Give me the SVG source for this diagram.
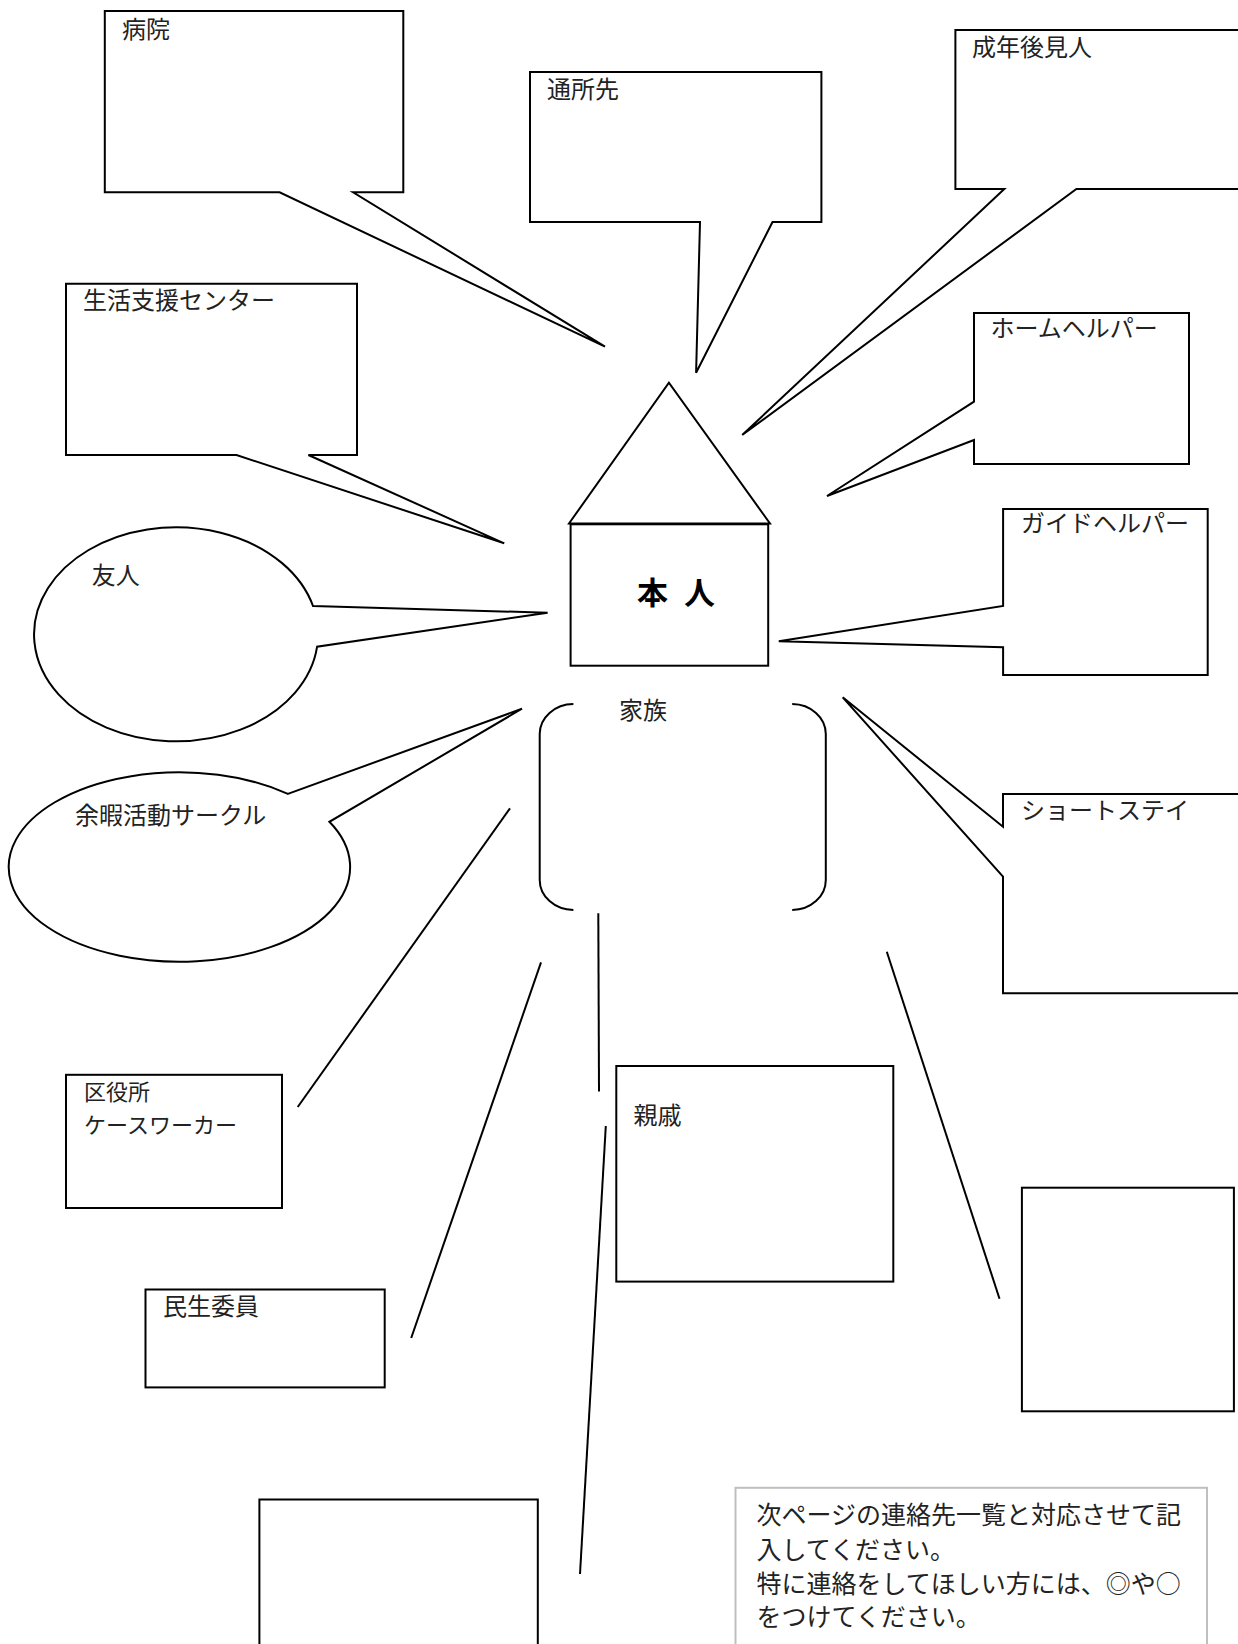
<svg xmlns="http://www.w3.org/2000/svg" width="1238" height="1644" viewBox="0 0 1238 1644">
<style>
.s{fill:#fff;stroke:#000;stroke-width:2;stroke-linejoin:miter}
.ln{fill:none;stroke:#000;stroke-width:2}
.t{font-family:"Noto Sans CJK JP","Noto Sans CJK SC",sans-serif;font-size:24px;fill:#222}
.w{font-family:"Noto Sans CJK JP","Noto Sans CJK SC",sans-serif;font-size:22px;fill:#222}
.n{font-family:"Noto Sans CJK JP","Noto Sans CJK SC",sans-serif;font-size:25px;fill:#222}
.b{font-family:"Noto Sans CJK JP","Noto Sans CJK SC",sans-serif;font-size:31px;font-weight:bold;fill:#000}
</style>
<rect width="1238" height="1644" fill="#fff"/>
<g id="connectors">
<line class="ln" x1="510" y1="808.3" x2="297.7" y2="1107"/>
<line class="ln" x1="541" y1="962.4" x2="411.2" y2="1338"/>
<line class="ln" x1="598.3" y1="913.3" x2="599" y2="1091.6"/>
<line class="ln" x1="605.8" y1="1126" x2="580" y2="1574"/>
<line class="ln" x1="886.8" y1="951.7" x2="999.5" y2="1298.8"/>
</g>
<g id="hospital">
<path class="s" d="M104.8,11 H403.3 V192.3 H353.1 L605,346.7 L279.6,192.3 H104.8 Z"/>
<text class="t" x="122" y="38">病院</text>
</g>
<g id="day-service">
<path class="s" d="M530,72 H821.4 V222 H772.5 L696.1,372.7 L700,222 H530 Z"/>
<text class="t" x="547" y="98">通所先</text>
</g>
<g id="guardian">
<path class="s" d="M955.4,30 H1250 V189 H1076.4 L742.2,435 L1004.3,189 H955.4 Z"/>
<text class="t" x="972" y="56">成年後見人</text>
</g>
<g id="life-support">
<path class="s" d="M66,283.7 H357 V455 H308.4 L504.2,543.3 L236.5,455 H66 Z"/>
<text class="t" x="83" y="309">生活支援センター</text>
</g>
<g id="home-helper">
<path class="s" d="M974,313 H1189 V464 H974 V440 L827,496 L974,401.7 Z"/>
<text class="t" x="990.5" y="337">ホームヘルパー</text>
</g>
<g id="self">
<path class="s" d="M569,523.5 L668.9,382.7 L770,523.5 Z"/>
<rect class="s" x="570.6" y="524.3" width="197.6" height="141.4"/>
<text class="b" x="637" y="604">本<tspan x="684">人</tspan></text>
</g>
<g id="friend">
<path class="s" d="M313,606 L547.6,612.7 L317.1,646.7 A142,107 0 1 1 313,606 Z"/>
<text class="t" x="91.7" y="584">友人</text>
</g>
<g id="guide-helper">
<path class="s" d="M1003.1,509 H1207.7 V675 H1003.1 V647.3 L778.8,641.3 L1003.1,606 Z"/>
<text class="t" x="1021" y="532">ガイドヘルパー</text>
</g>
<g id="family">
<path class="ln" d="M573.4,704 A34,30 0 0 0 539.7,734 V880 A34,30 0 0 0 573.4,910"/>
<path class="ln" d="M792.2,704 A34,30 0 0 1 825.8,734 V880 A34,30 0 0 1 792.2,910"/>
<text class="t" x="619" y="719">家族</text>
</g>
<g id="leisure-circle">
<path class="s" d="M287.9,793.9 L522,708.7 L329.4,821.8 A170.7,94.7 0 1 1 287.9,793.9 Z"/>
<text class="t" x="75" y="824">余暇活動サークル</text>
</g>
<g id="short-stay">
<path class="s" d="M1003,794 H1250 V993.3 H1003 V876.7 L842.7,697.3 L1003,826.7 Z"/>
<text class="t" x="1021" y="819">ショートステイ</text>
</g>
<g id="ward-office">
<rect class="s" x="66" y="1074.8" width="216" height="133.2"/>
<text class="w" x="84" y="1100">区役所</text>
<text class="w" x="84" y="1132.5">ケースワーカー</text>
</g>
<g id="welfare-commissioner">
<rect class="s" x="145.5" y="1289.5" width="239.2" height="97.9"/>
<text class="t" x="163" y="1315">民生委員</text>
</g>
<g id="relatives">
<rect class="s" x="616.3" y="1066" width="277" height="215.6"/>
<text class="t" x="633.4" y="1124">親戚</text>
</g>
<g id="blank-right">
<rect class="s" x="1021.9" y="1187.7" width="212" height="223.6"/>
</g>
<g id="blank-bottom">
<rect class="s" x="259.4" y="1499.5" width="278.4" height="170"/>
</g>
<g id="note">
<rect x="735.5" y="1487.8" width="471.5" height="180" fill="#fff" stroke="#bfbfbf" stroke-width="2"/>
<text class="n" x="756.6" y="1524">次ページの連絡先一覧と対応させて記</text>
<text class="n" x="756.6" y="1559">入してください。</text>
<text class="n" x="756.6" y="1593">特に連絡をしてほしい方には、◎や○</text>
<text class="n" x="756.6" y="1626">をつけてください。</text>
</g>
</svg>
